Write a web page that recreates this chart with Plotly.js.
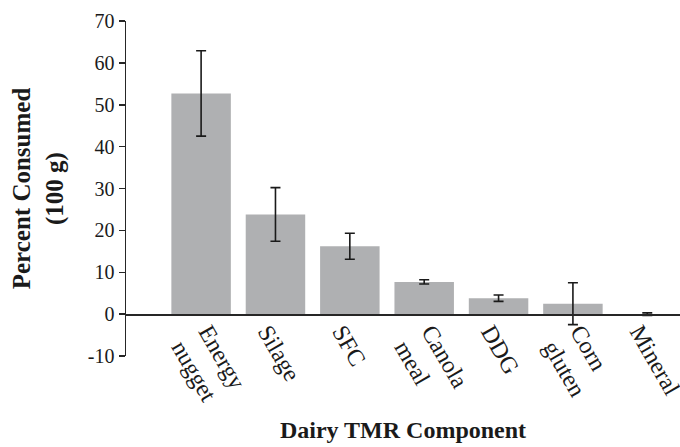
<!DOCTYPE html>
<html>
<head>
<meta charset="utf-8">
<script src="https://cdn.plot.ly/plotly-3.0.1.min.js"></script>
<style>html,body{margin:0;padding:0;background:#fff;}#chart{width:680px;height:447px;}</style>
</head>
<body>
<div id="chart"></div>
<script>
const categories = ["Energy<br>nugget", "Silage", "SFC", "Canola<br>meal", "DDG", "Corn<br>gluten", "Mineral"];
const percentConsumed = [52.7, 23.8, 16.2, 7.7, 3.8, 2.5, 0.0];
const errorValues = [10.2, 6.4, 3.1, 0.5, 0.75, 5.0, 0.3];
const yTickValues = [-10, 0, 10, 20, 30, 40, 50, 60, 70];
const yTickLabels = ["-10", "0", "10", "20", "30", "40", "50", "60", "70"];

const singleLine = categories.filter(c => c.indexOf('<br>') < 0);
const doubleLine = categories.filter(c => c.indexOf('<br>') >= 0);

const bars = {
  type: 'bar',
  x: categories,
  y: percentConsumed,
  marker: {color: '#afb0b2'},
  error_y: {type: 'data', array: errorValues, visible: true, color: '#1a1a1a', thickness: 1.6, width: 5},
  hoverinfo: 'skip'
};
// empty traces only so that the label axes x2 / x3 get drawn
const labelHolder2 = {type: 'scatter', mode: 'markers', x: [], y: [], xaxis: 'x2', yaxis: 'y', hoverinfo: 'skip'};
const labelHolder3 = {type: 'scatter', mode: 'markers', x: [], y: [], xaxis: 'x3', yaxis: 'y', hoverinfo: 'skip'};

const xRange = [-1.01, 6.44];
const zeroPos = 0.125; // y = 0 within the [-10, 70] range
const plotH = 447 - 21 - 91;
const baseX = {
  type: 'category',
  categoryorder: 'array', categoryarray: categories,
  range: xRange,
  anchor: 'free',
  showgrid: false, zeroline: false,
  ticks: '', tickangle: 60,
  tickfont: {size: 24, color: '#1a1a1a'}
};

const layout = {
  width: 680, height: 447,
  margin: {l: 126, r: 0, t: 21, b: 91},
  paper_bgcolor: '#ffffff', plot_bgcolor: '#ffffff',
  showlegend: false,
  bargap: 0.2,
  font: {family: '"Liberation Serif", "Times New Roman", serif', color: '#1a1a1a', size: 20},
  xaxis: Object.assign({}, baseX, {
    position: zeroPos,
    showticklabels: false,
    showline: true, linecolor: '#262626', linewidth: 1.5,
    title: {text: '<b>Dairy TMR Component</b>', font: {size: 24, color: '#1a1a1a'}, standoff: 106}
  }),
  xaxis2: Object.assign({}, baseX, {
    overlaying: 'x',
    position: zeroPos + 2 / plotH,
    tickvals: singleLine,
    ticklabelshift: -8,
    showline: false
  }),
  xaxis3: Object.assign({}, baseX, {
    overlaying: 'x',
    position: zeroPos + 2 / plotH,
    tickvals: doubleLine,
    ticklabelshift: 7,
    showline: false
  }),
  yaxis: {
    range: [-10, 70],
    tickvals: yTickValues,
    ticktext: yTickLabels,
    showline: true, linecolor: '#262626', linewidth: 1.5,
    showgrid: false, zeroline: false,
    ticks: 'outside', ticklen: 6, tickcolor: '#262626', tickwidth: 1.5,
    tickfont: {size: 20, color: '#1a1a1a'},
    title: {text: '<b>Percent Consumed<br>(100 g)</b>', font: {size: 25, color: '#1a1a1a'}, standoff: 17}
  }
};

Plotly.newPlot('chart', [bars, labelHolder2, labelHolder3], layout, {displayModeBar: false, staticPlot: true});
</script>
</body>
</html>
